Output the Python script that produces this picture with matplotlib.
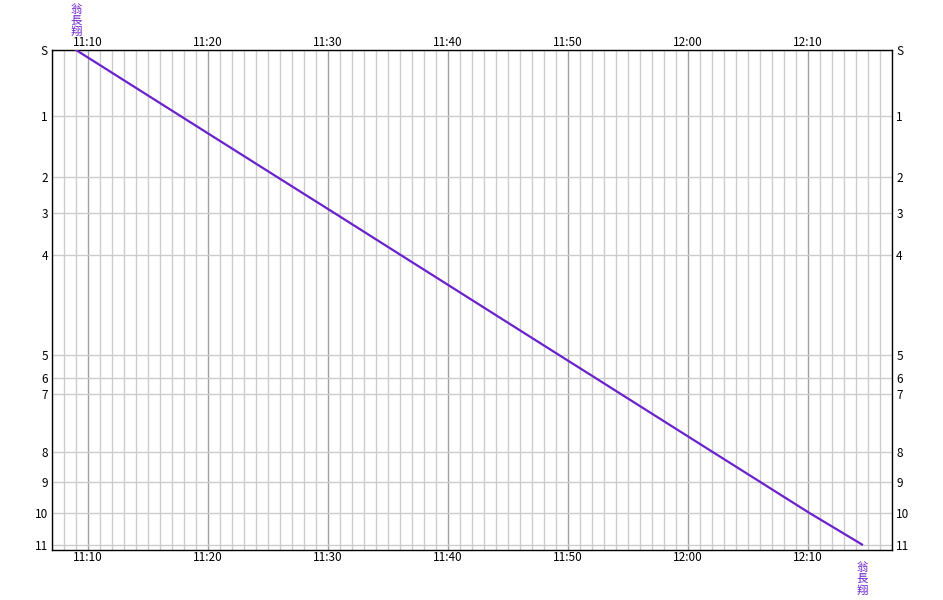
import matplotlib
matplotlib.use("Agg")
import matplotlib.pyplot as plt
from matplotlib.ticker import FixedLocator, FuncFormatter, MultipleLocator

# Station names and their distance along the line (diagram units, top = 0)
stations = ["S", "1", "2", "3", "4", "5", "6", "7", "8", "9", "10", "11"]
station_pos = [0, 65.7, 127.3, 163.3, 205.3, 305, 328.3, 344, 401.7, 432.3, 462.7, 494.5]

# Passing times of the train at each station
train_name = "翁長翔"
train_times = ["11:09:00", "11:17:40", "11:25:48", "11:30:34", "11:36:06", "11:49:15",
               "11:52:20", "11:54:24", "12:02:01", "12:06:04", "12:10:05", "12:14:30"]

t_start, t_end = "11:07", "12:17"


def to_min(s):
    p = [int(v) for v in s.split(":")]
    return p[0] * 60 + p[1] + (p[2] / 60 if len(p) > 2 else 0)


def fmt_time(x, pos):
    return f"{int(round(x)) // 60}:{int(round(x)) % 60:02d}"


line_col = "#6a22cc"
plt.rcParams["font.family"] = ["Noto Sans CJK JP", "DejaVu Sans"]

fig = plt.figure(figsize=(9.43, 6.0), dpi=100)
ax = fig.add_axes([52 / 943, 50 / 600, 840 / 943, 500 / 600])

x0, x1 = to_min(t_start), to_min(t_end)
ax.set_xlim(x0, x1)
ax.set_ylim(500, 0)

# minute grid and 10 minute grid
for m in range(int(x0), int(x1) + 1):
    c = "#a0a0a0" if m % 10 == 0 else "#cccccc"
    ax.axvline(m, color=c, lw=1, zorder=1)
for y in station_pos:
    ax.axhline(y, color="#cccccc", lw=1, zorder=1)

xs = [to_min(t) for t in train_times]
ax.plot(xs, station_pos, color=line_col, lw=1.6, zorder=3)

# axes, ticks on both sides
ax.xaxis.set_major_locator(MultipleLocator(10))
ax.xaxis.set_major_formatter(FuncFormatter(fmt_time))
ax.tick_params(axis="x", which="both", length=0, labelsize=8.5, pad=1,
               top=True, labeltop=True, bottom=True, labelbottom=True)
ax.yaxis.set_major_locator(FixedLocator(station_pos))
ax.set_yticklabels(stations)
ax.tick_params(axis="y", which="both", length=0, labelsize=8.5, pad=3,
               left=True, labelleft=True, right=True, labelright=True)
for sp in ax.spines.values():
    sp.set_color("black")
    sp.set_linewidth(1)

# train name, written vertically, at start and end
for i, ch in enumerate(train_name):
    ax.annotate(ch, (xs[0], station_pos[0]), xytext=(0, 29 - 8 * i),
                textcoords="offset points", ha="center", va="center",
                color=line_col, fontsize=8.2, annotation_clip=False)
    ax.annotate(ch, (xs[-1], 500), xytext=(0, -13 - 8 * i),
                textcoords="offset points", ha="center", va="center",
                color=line_col, fontsize=8.2, annotation_clip=False)

fig.savefig("out.png", dpi=100)
